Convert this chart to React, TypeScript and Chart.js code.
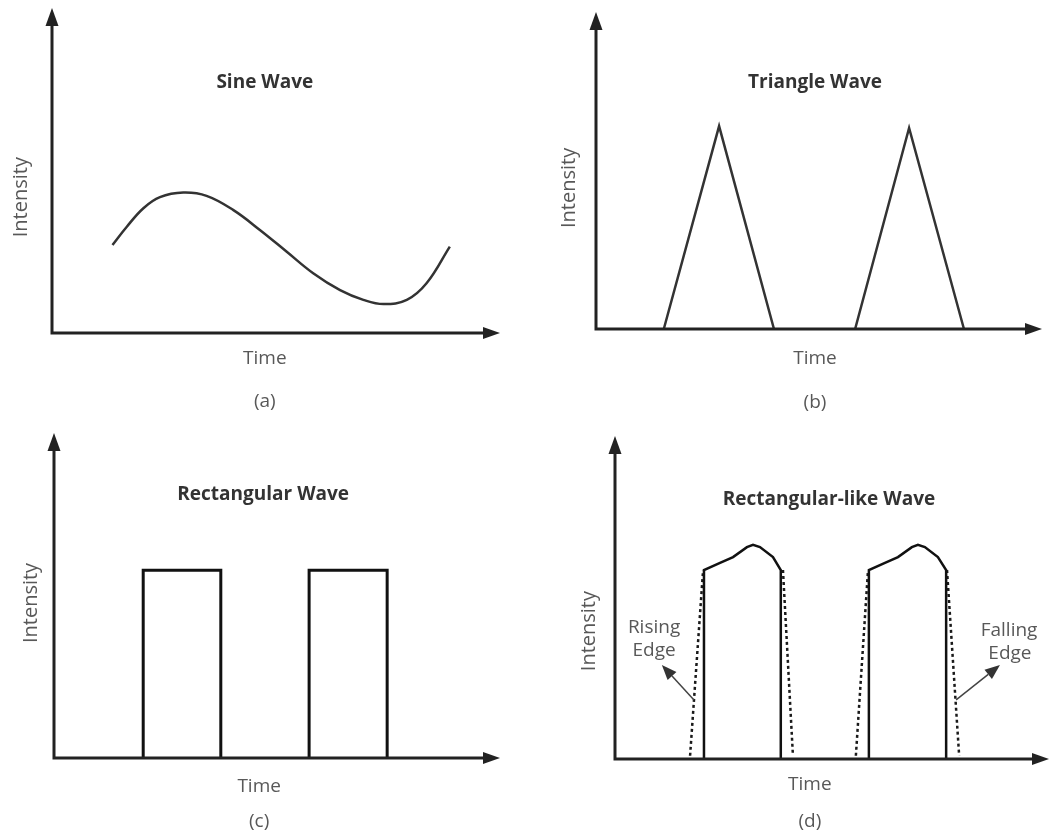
import React, { useEffect, useRef } from "react";
import { Chart, registerables } from "chart.js";

Chart.register(...registerables);

// ---------- data (Time / Intensity, arbitrary units 0..100) ----------
const sineTime = [13.5, 16.7, 20.4, 24.1, 29.3, 34.5, 40.5, 46.4, 52.4, 58.3, 64.3, 69.5, 74.0, 79.2, 83.6, 88.8];
const sineIntensity = [27.1, 32.7, 38.4, 41.8, 43.2, 42.2, 37.8, 31.7, 25.0, 18.4, 13.2, 10.2, 8.9, 10.2, 15.3, 26.6];

const triangle1Time = [15.2, 27.6, 39.9];
const triangle1Intensity = [0, 64.0, 0];
const triangle2Time = [58.1, 70.2, 82.5];
const triangle2Intensity = [0, 63.4, 0];

const rect1Time = [20.0, 20.0, 37.4, 37.4];
const rect1Intensity = [0, 57.8, 57.8, 0];
const rect2Time = [57.2, 57.2, 74.7, 74.7];
const rect2Intensity = [0, 57.8, 57.8, 0];

const like1Time = [20.5, 20.5, 24.2, 27.2, 30.4, 31.8, 33.4, 36.4, 38.2, 38.2];
const like1Intensity = [0, 58.5, 60.7, 62.5, 65.6, 66.3, 65.6, 62.5, 58.5, 0];
const like2Time = [58.5, 58.5, 62.2, 65.2, 68.4, 69.8, 71.4, 74.4, 76.3, 76.3];
const like2Intensity = [0, 58.5, 60.7, 62.5, 65.6, 66.3, 65.6, 62.5, 58.5, 0];

const rising1Time = [17.3, 20.3];
const rising1Intensity = [1.0, 58.5];
const falling1Time = [38.7, 41.0];
const falling1Intensity = [58.5, 1.0];
const rising2Time = [55.5, 58.3];
const rising2Intensity = [1.0, 58.5];
const falling2Time = [76.5, 79.3];
const falling2Intensity = [58.5, 1.0];

const titles = ["Sine Wave", "Triangle Wave", "Rectangular Wave", "Rectangular-like Wave"];
const tags = ["(a)", "(b)", "(c)", "(d)"];
const xLabel = "Time";
const yLabel = "Intensity";
const risingLabel = ["Rising", "Edge"];
const fallingLabel = ["Falling", "Edge"];

// ---------- styles ----------
const FONT = '"Open Sans", "Noto Sans", sans-serif';
const AXIS = "#222222";
const TEXT = "#585858";
const TITLE = "#333333";

const pts = (xs: number[], ys: number[]) => xs.map((x, i) => ({ x, y: ys[i] }));

type PanelCfg = {
  left: number;
  top: number;
  padding: { left: number; right: number; top: number; bottom: number };
  title: string;
  titleAt: [number, number];
  tag: string;
  labelX: number;
  timeBelow: number;
  tagBelow: number;
  intensityY: number;
  intensityLeft: number;
  datasets: any[];
  annotations?: boolean;
};

const line = (data: any[], color: string, width: number, extra: any = {}) => ({
  data,
  borderColor: color,
  borderWidth: width,
  pointRadius: 0,
  fill: false,
  tension: 0,
  clip: false,
  borderJoinStyle: "miter",
  ...extra,
});

const DOTS = { borderDash: [3, 3], borderCapStyle: "butt" };

const panels: PanelCfg[] = [
  {
    left: 0,
    top: 0,
    padding: { left: 52, right: 27, top: 8, bottom: 85 },
    title: titles[0],
    titleAt: [47.5, 77.2],
    tag: tags[0],
    labelX: 47.5,
    timeBelow: 26,
    tagBelow: 69,
    intensityY: 41.8,
    intensityLeft: 31,
    datasets: [line(pts(sineTime, sineIntensity), "#333333", 2.5, { tension: 0.4, borderJoinStyle: "round" })],
  },
  {
    left: 527,
    top: 0,
    padding: { left: 69, right: 12, top: 12, bottom: 89 },
    title: titles[1],
    titleAt: [49.1, 77.6],
    tag: tags[1],
    labelX: 49.1,
    timeBelow: 30,
    tagBelow: 74,
    intensityY: 44.5,
    intensityLeft: 27,
    datasets: [
      line(pts(triangle1Time, triangle1Intensity), "#333333", 2.5),
      line(pts(triangle2Time, triangle2Intensity), "#333333", 2.5),
    ],
  },
  {
    left: 0,
    top: 418,
    padding: { left: 54, right: 27, top: 15, bottom: 78 },
    title: titles[2],
    titleAt: [46.9, 80.9],
    tag: tags[2],
    labelX: 46.0,
    timeBelow: 29,
    tagBelow: 64,
    intensityY: 47.7,
    intensityLeft: 23,
    datasets: [
      line(pts(rect1Time, rect1Intensity), "#111111", 3),
      line(pts(rect2Time, rect2Intensity), "#111111", 3),
    ],
  },
  {
    left: 527,
    top: 418,
    padding: { left: 88, right: 5, top: 18, bottom: 77 },
    title: titles[3],
    titleAt: [49.3, 80.2],
    tag: tags[3],
    labelX: 44.9,
    timeBelow: 26,
    tagBelow: 63,
    intensityY: 39.6,
    intensityLeft: 26,
    annotations: true,
    datasets: [
      line(pts(like1Time, like1Intensity), "#111111", 2.5),
      line(pts(like2Time, like2Intensity), "#111111", 2.5),
      line(pts(rising1Time, rising1Intensity), "#1a1a1a", 2.5, DOTS),
      line(pts(falling1Time, falling1Intensity), "#1a1a1a", 2.5, DOTS),
      line(pts(rising2Time, rising2Intensity), "#1a1a1a", 2.5, DOTS),
      line(pts(falling2Time, falling2Intensity), "#1a1a1a", 2.5, DOTS),
    ],
  },
];

function drawArrow(ctx: CanvasRenderingContext2D, x1: number, y1: number, x2: number, y2: number, headLen: number, headHalf: number) {
  const ang = Math.atan2(y2 - y1, x2 - x1);
  const bx = x2 - headLen * Math.cos(ang);
  const by = y2 - headLen * Math.sin(ang);
  ctx.beginPath();
  ctx.moveTo(x1, y1);
  ctx.lineTo(bx, by);
  ctx.stroke();
  ctx.beginPath();
  ctx.moveTo(x2, y2);
  ctx.lineTo(bx + headHalf * Math.sin(ang), by - headHalf * Math.cos(ang));
  ctx.lineTo(bx - headHalf * Math.sin(ang), by + headHalf * Math.cos(ang));
  ctx.closePath();
  ctx.fill();
}

const makeDiagramPlugin = (cfg: PanelCfg) => ({
  id: "diagram",
  afterDatasetsDraw(chart: any) {
    const { ctx, chartArea: a, scales } = chart;
    const xs = scales.x;
    const ys = scales.y;
    ctx.save();
    // axes
    ctx.strokeStyle = AXIS;
    ctx.fillStyle = AXIS;
    ctx.lineWidth = 3;
    ctx.lineJoin = "miter";
    ctx.beginPath();
    ctx.moveTo(a.left, a.top + 14);
    ctx.lineTo(a.left, a.bottom);
    ctx.lineTo(a.right - 14, a.bottom);
    ctx.stroke();
    ctx.beginPath();
    ctx.moveTo(a.left, a.top);
    ctx.lineTo(a.left - 6.5, a.top + 18);
    ctx.lineTo(a.left + 6.5, a.top + 18);
    ctx.closePath();
    ctx.fill();
    ctx.beginPath();
    ctx.moveTo(a.right, a.bottom);
    ctx.lineTo(a.right - 17, a.bottom - 6);
    ctx.lineTo(a.right - 17, a.bottom + 6);
    ctx.closePath();
    ctx.fill();

    // title
    ctx.textAlign = "center";
    ctx.textBaseline = "middle";
    ctx.fillStyle = TITLE;
    ctx.font = `bold 19px ${FONT}`;
    ctx.fillText(cfg.title, xs.getPixelForValue(cfg.titleAt[0]), ys.getPixelForValue(cfg.titleAt[1]));

    // axis labels
    ctx.fillStyle = TEXT;
    ctx.font = `19px ${FONT}`;
    const lx = xs.getPixelForValue(cfg.labelX);
    ctx.fillText(xLabel, lx, a.bottom + cfg.timeBelow);
    ctx.fillText(cfg.tag, lx, a.bottom + cfg.tagBelow);
    ctx.save();
    ctx.font = `20px ${FONT}`;
    ctx.translate(a.left - cfg.intensityLeft, ys.getPixelForValue(cfg.intensityY));
    ctx.rotate(-Math.PI / 2);
    ctx.fillText(yLabel, 0, 0);
    ctx.restore();

    if (cfg.annotations) {
      ctx.fillStyle = TEXT;
      ctx.fillText(risingLabel[0], xs.getPixelForValue(9.0), ys.getPixelForValue(40.6));
      ctx.fillText(risingLabel[1], xs.getPixelForValue(9.0), ys.getPixelForValue(33.7));
      ctx.fillText(fallingLabel[0], xs.getPixelForValue(90.8), ys.getPixelForValue(39.6));
      ctx.fillText(fallingLabel[1], xs.getPixelForValue(91.0), ys.getPixelForValue(32.5));
      ctx.strokeStyle = "#444444";
      ctx.fillStyle = "#333333";
      ctx.lineWidth = 1.5;
      drawArrow(ctx, xs.getPixelForValue(18.2), ys.getPixelForValue(18.3), xs.getPixelForValue(10.8), ys.getPixelForValue(29.1), 15, 6);
      drawArrow(ctx, xs.getPixelForValue(78.6), ys.getPixelForValue(18.3), xs.getPixelForValue(88.7), ys.getPixelForValue(29.1), 15, 6);
    }
    ctx.restore();
  },
});

export default function App() {
  const refs = [useRef<HTMLCanvasElement>(null), useRef<HTMLCanvasElement>(null), useRef<HTMLCanvasElement>(null), useRef<HTMLCanvasElement>(null)];

  useEffect(() => {
    const charts = panels.map((cfg, i) => {
      const canvas = refs[i].current!;
      return new Chart(canvas, {
        type: "line",
        data: { datasets: cfg.datasets },
        options: {
          animation: false,
          responsive: false,
          devicePixelRatio: 1,
          layout: { padding: cfg.padding },
          scales: {
            x: { type: "linear", min: 0, max: 100, display: false },
            y: { type: "linear", min: 0, max: 100, display: false },
          },
          plugins: { legend: { display: false }, tooltip: { enabled: false }, title: { display: false } },
          events: [],
        },
        plugins: [makeDiagramPlugin(cfg)],
      } as any);
    });
    return () => charts.forEach((c) => c.destroy());
  }, []);

  return (
    <div style={{ position: "absolute", left: 0, top: 0, width: 1054, height: 836, background: "#ffffff", overflow: "hidden" }}>
      {panels.map((cfg, i) => (
        <div key={i} style={{ position: "absolute", left: cfg.left, top: cfg.top, width: 527, height: 418 }}>
          <canvas ref={refs[i]} width={527} height={418} style={{ display: "block", width: 527, height: 418 }} />
        </div>
      ))}
    </div>
  );
}
